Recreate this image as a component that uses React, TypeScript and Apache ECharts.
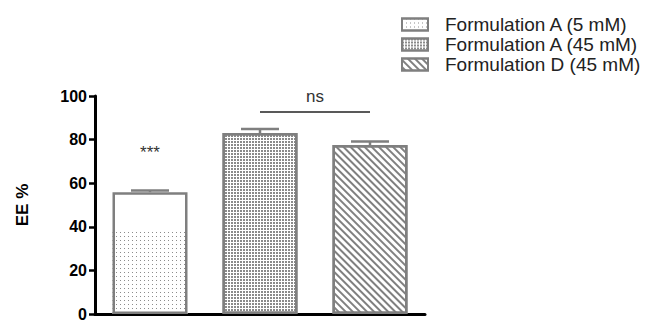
import React, { useEffect, useRef } from "react";
import * as echarts from "echarts";

const categories = ["Formulation A (5 mM)", "Formulation A (45 mM)", "Formulation D (45 mM)"];
const meanValues = [55.9, 83.0, 77.5];
const errorValues = [0.7, 1.9, 1.6];
const dottedPart = [38.2];
const yTicks = { min: 0, max: 100, interval: 20 };
const sigStars = { label: "***", category: 0, y: 74.0 };
const sigNs = { label: "ns", from: 1, to: 2, y: 92.8 };

const BORDER = "#7f7f7f";

const dotsDecal = {
  symbol: "rect",
  symbolSize: 1,
  color: "#8c8c8c",
  backgroundColor: "#ffffff",
  dashArrayX: [1, 3],
  dashArrayY: [1, 3],
};
const gridDecal = {
  symbol: "rect",
  symbolSize: 1,
  color: "#8a8a8a",
  backgroundColor: "#ffffff",
  dashArrayX: [2, 1],
  dashArrayY: [2, 1],
};
const stripeDecal = {
  symbol: "rect",
  symbolSize: 1,
  color: "#808080",
  backgroundColor: "#ffffff",
  dashArrayX: [1, 0],
  dashArrayY: [2, 3],
  rotation: Math.PI / 4,
};

function only(i: number, v: number) {
  return categories.map((_, j) => (j === i ? v : "-"));
}

export default function App() {
  const ref = useRef<HTMLDivElement>(null);
  useEffect(() => {
    if (!ref.current) return;
    const chart = echarts.init(ref.current, undefined, { renderer: "svg" });
    const font = "Liberation Sans";
    const barWidth = 75;
    const baseBar = (i: number, decal: any, fill: string) => ({
      type: "bar",
      name: categories[i],
      data: only(i, meanValues[i]),
      barWidth,
      barGap: "-100%",
      itemStyle: {
        color: fill,
        borderColor: BORDER,
        borderWidth: 2.5,
        decal: decal || undefined,
      },
      z: 3,
    });
    const s1: any = baseBar(0, null, "rgba(255,255,255,0)");
    s1.markPoint = {
      symbol: "circle",
      symbolSize: 0,
      silent: true,
      label: {
        show: true,
        formatter: sigStars.label,
        color: "#333",
        fontSize: 17,
        fontFamily: font,
        position: "inside",
      },
      data: [{ coord: [sigStars.category, sigStars.y] }],
    };
    const s2: any = baseBar(1, gridDecal, "#ffffff");
    s2.markLine = {
      symbol: ["none", "none"],
      silent: true,
      lineStyle: { color: "#222", width: 1.5, type: "solid" },
      label: {
        show: true,
        formatter: sigNs.label,
        position: "middle",
        color: "#333",
        fontSize: 17,
        fontFamily: font,
        distance: 7,
      },
      data: [[{ coord: [sigNs.from, sigNs.y] }, { coord: [sigNs.to, sigNs.y] }]],
    };
    const s3: any = baseBar(2, stripeDecal, "#ffffff");
    const dots: any = {
      type: "bar",
      name: "dots",
      data: only(0, dottedPart[0]),
      barWidth,
      barGap: "-100%",
      itemStyle: { color: "#ffffff", decal: dotsDecal, borderWidth: 0 },
      z: 2,
      silent: true,
    };
    const errors: any = {
      type: "custom",
      name: "errors",
      data: meanValues.map((v, i) => [i, v, errorValues[i]]),
      z: 4,
      silent: true,
      renderItem: (params: any, api: any) => {
        const x = api.value(0);
        const v = api.value(1);
        const e = api.value(2);
        const p0 = api.coord([x, v]);
        const p1 = api.coord([x, v + e]);
        const half = 19;
        const style = { stroke: BORDER, lineWidth: 2.5 };
        return {
          type: "group",
          children: [
            { type: "line", shape: { x1: p0[0], y1: p0[1], x2: p1[0], y2: p1[1] }, style },
            { type: "line", shape: { x1: p1[0] - half, y1: p1[1], x2: p1[0] + half, y2: p1[1] }, style },
          ],
        };
      },
    };
    chart.setOption({
      animation: false,
      grid: { left: 95, right: 224, top: 96, bottom: 5, containLabel: false },
      legend: {
        orient: "vertical",
        left: 396,
        top: 10,
        itemWidth: 26,
        itemHeight: 12,
        itemGap: 1,
        icon: "rect",
        data: [
          { name: categories[0], itemStyle: { color: "#ffffff", decal: dotsDecal } },
          { name: categories[1] },
          { name: categories[2] },
        ],
        textStyle: {
          fontFamily: font,
          fontSize: 19,
          color: "#222",
          padding: [0, 0, 0, 12],
        },
        selectedMode: false,
      },
      xAxis: {
        type: "category",
        data: categories,
        axisLine: { lineStyle: { color: "#000", width: 3 } },
        axisTick: { alignWithLabel: true, length: 5, lineStyle: { color: "#000", width: 2.5 } },
        axisLabel: { show: false },
      },
      yAxis: {
        type: "value",
        min: yTicks.min,
        max: yTicks.max,
        interval: yTicks.interval,
        name: "EE %",
        nameLocation: "middle",
        nameRotate: 90,
        nameGap: 64,
        nameTextStyle: { fontFamily: font, fontSize: 17, fontWeight: "bold", color: "#000" },
        axisLine: { show: true, lineStyle: { color: "#000", width: 3 } },
        axisTick: { show: true, length: 6, lineStyle: { color: "#000", width: 2.5 } },
        axisLabel: { fontFamily: font, fontSize: 16, fontWeight: "bold", color: "#000", margin: 8 },
        splitLine: { show: false },
      },
      series: [s1, s2, s3, dots, errors],
    });
    return () => chart.dispose();
  }, []);
  return (
    <div
      ref={ref}
      style={{ position: "fixed", left: 0, top: 0, width: 649, height: 322, background: "#fff" }}
    />
  );
}
